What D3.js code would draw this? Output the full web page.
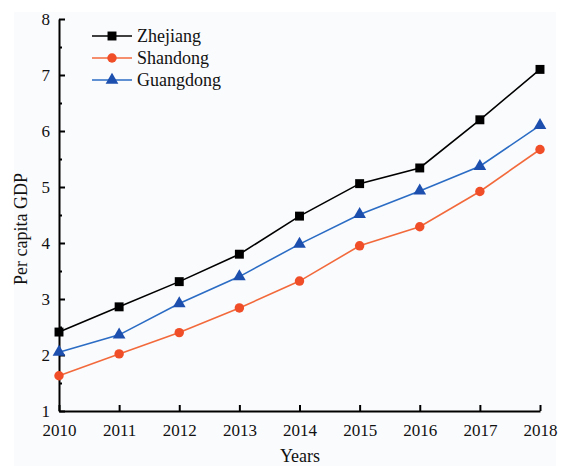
<!DOCTYPE html>
<html>
<head>
<meta charset="utf-8">
<script src="https://cdn.jsdelivr.net/npm/d3@7"></script>
<style>
  html, body { margin: 0; padding: 0; background: #ffffff; }
  svg { display: block; }
  text { font-family: "Liberation Serif", "Times New Roman", serif; fill: #111; }
</style>
</head>
<body>
<svg id="chart" width="566" height="466"></svg>
<script>
// Per capita GDP by province, 2010-2018
const years = [2010, 2011, 2012, 2013, 2014, 2015, 2016, 2017, 2018];
const zhejiang  = [2.41, 2.86, 3.31, 3.80, 4.48, 5.06, 5.34, 6.20, 7.10];
const shandong  = [1.63, 2.02, 2.40, 2.84, 3.32, 3.95, 4.29, 4.92, 5.67];
const guangdong = [2.05, 2.36, 2.92, 3.40, 3.98, 4.51, 4.93, 5.37, 6.10];
const seriesNames = ["Zhejiang", "Shandong", "Guangdong"];
const yMajorTicks = [1, 2, 3, 4, 5, 6, 7, 8];
const yMinorTicks = [1.5, 2.5, 3.5, 4.5, 5.5, 6.5, 7.5];

const series = [
  { name: seriesNames[0], values: zhejiang,  line: "#000000", fill: "#000000", symbol: d3.symbolSquare,   size: 80 },
  { name: seriesNames[1], values: shandong,  line: "#f26a3c", fill: "#f04e28", symbol: d3.symbolCircle,   size: 70 },
  { name: seriesNames[2], values: guangdong, line: "#2b6cc4", fill: "#1c4fae", symbol: d3.symbolTriangle, size: 70 }
];

const svg = d3.select("#chart");

// soft panel behind the figure
svg.append("rect")
  .attr("x", 14).attr("y", 12)
  .attr("width", 542).attr("height", 454)
  .attr("fill", "#fafbfd");

const x = d3.scaleLinear().domain([2010, 2018]).range([59, 540]);
const y = d3.scaleLinear().domain([1, 8]).range([411, 19]);

// x axis with inward ticks
svg.append("g")
  .attr("transform", `translate(0,${y(1)})`)
  .call(d3.axisBottom(x).tickValues(years).tickFormat(d3.format("d"))
    .tickSizeInner(-6).tickSizeOuter(0).tickPadding(12.5));

// y axis: major ticks with labels, minor ticks without
svg.append("g")
  .attr("transform", `translate(${x(2010)},0)`)
  .call(d3.axisLeft(y).tickValues(yMajorTicks).tickFormat(d3.format("d"))
    .tickSizeInner(-6).tickSizeOuter(0).tickPadding(9));

svg.append("g")
  .attr("transform", `translate(${x(2010)},0)`)
  .call(d3.axisLeft(y).tickValues(yMinorTicks).tickFormat("")
    .tickSizeInner(-3).tickSizeOuter(0))
  .select(".domain").remove();

svg.selectAll(".domain, .tick line")
  .attr("stroke", "#000").attr("stroke-width", 2);
svg.selectAll(".tick text")
  .style("font-family", "'Liberation Serif', serif")
  .style("font-size", "17px")
  .attr("fill", "#111");

// axis titles
svg.append("text")
  .attr("x", 300).attr("y", 462)
  .attr("text-anchor", "middle")
  .style("font-size", "18px")
  .text("Years");

svg.append("text")
  .attr("transform", "translate(27,229) rotate(-90)")
  .attr("text-anchor", "middle")
  .style("font-size", "18px")
  .text("Per capita GDP");

// lines and markers
const line = d3.line()
  .x((d, i) => x(years[i]))
  .y(d => y(d));

series.forEach(s => {
  svg.append("path")
    .datum(s.values)
    .attr("d", line)
    .attr("fill", "none")
    .attr("stroke", s.line)
    .attr("stroke-width", 1.6);

  svg.append("g")
    .selectAll("path")
    .data(s.values)
    .join("path")
    .attr("transform", (d, i) => `translate(${x(years[i])},${y(d)})`)
    .attr("d", d3.symbol().type(s.symbol).size(s.size))
    .attr("fill", s.fill);
});

// legend
const legend = svg.append("g");
series.forEach((s, i) => {
  const ly = 36 + i * 22;
  legend.append("line")
    .attr("x1", 92).attr("x2", 132)
    .attr("y1", ly).attr("y2", ly)
    .attr("stroke", s.line).attr("stroke-width", 1.6);
  legend.append("path")
    .attr("transform", `translate(112,${ly})`)
    .attr("d", d3.symbol().type(s.symbol).size(s.size))
    .attr("fill", s.fill);
  legend.append("text")
    .attr("x", 137).attr("y", ly)
    .attr("dy", "0.35em")
    .style("font-size", "18px")
    .text(s.name);
});
</script>
</body>
</html>
